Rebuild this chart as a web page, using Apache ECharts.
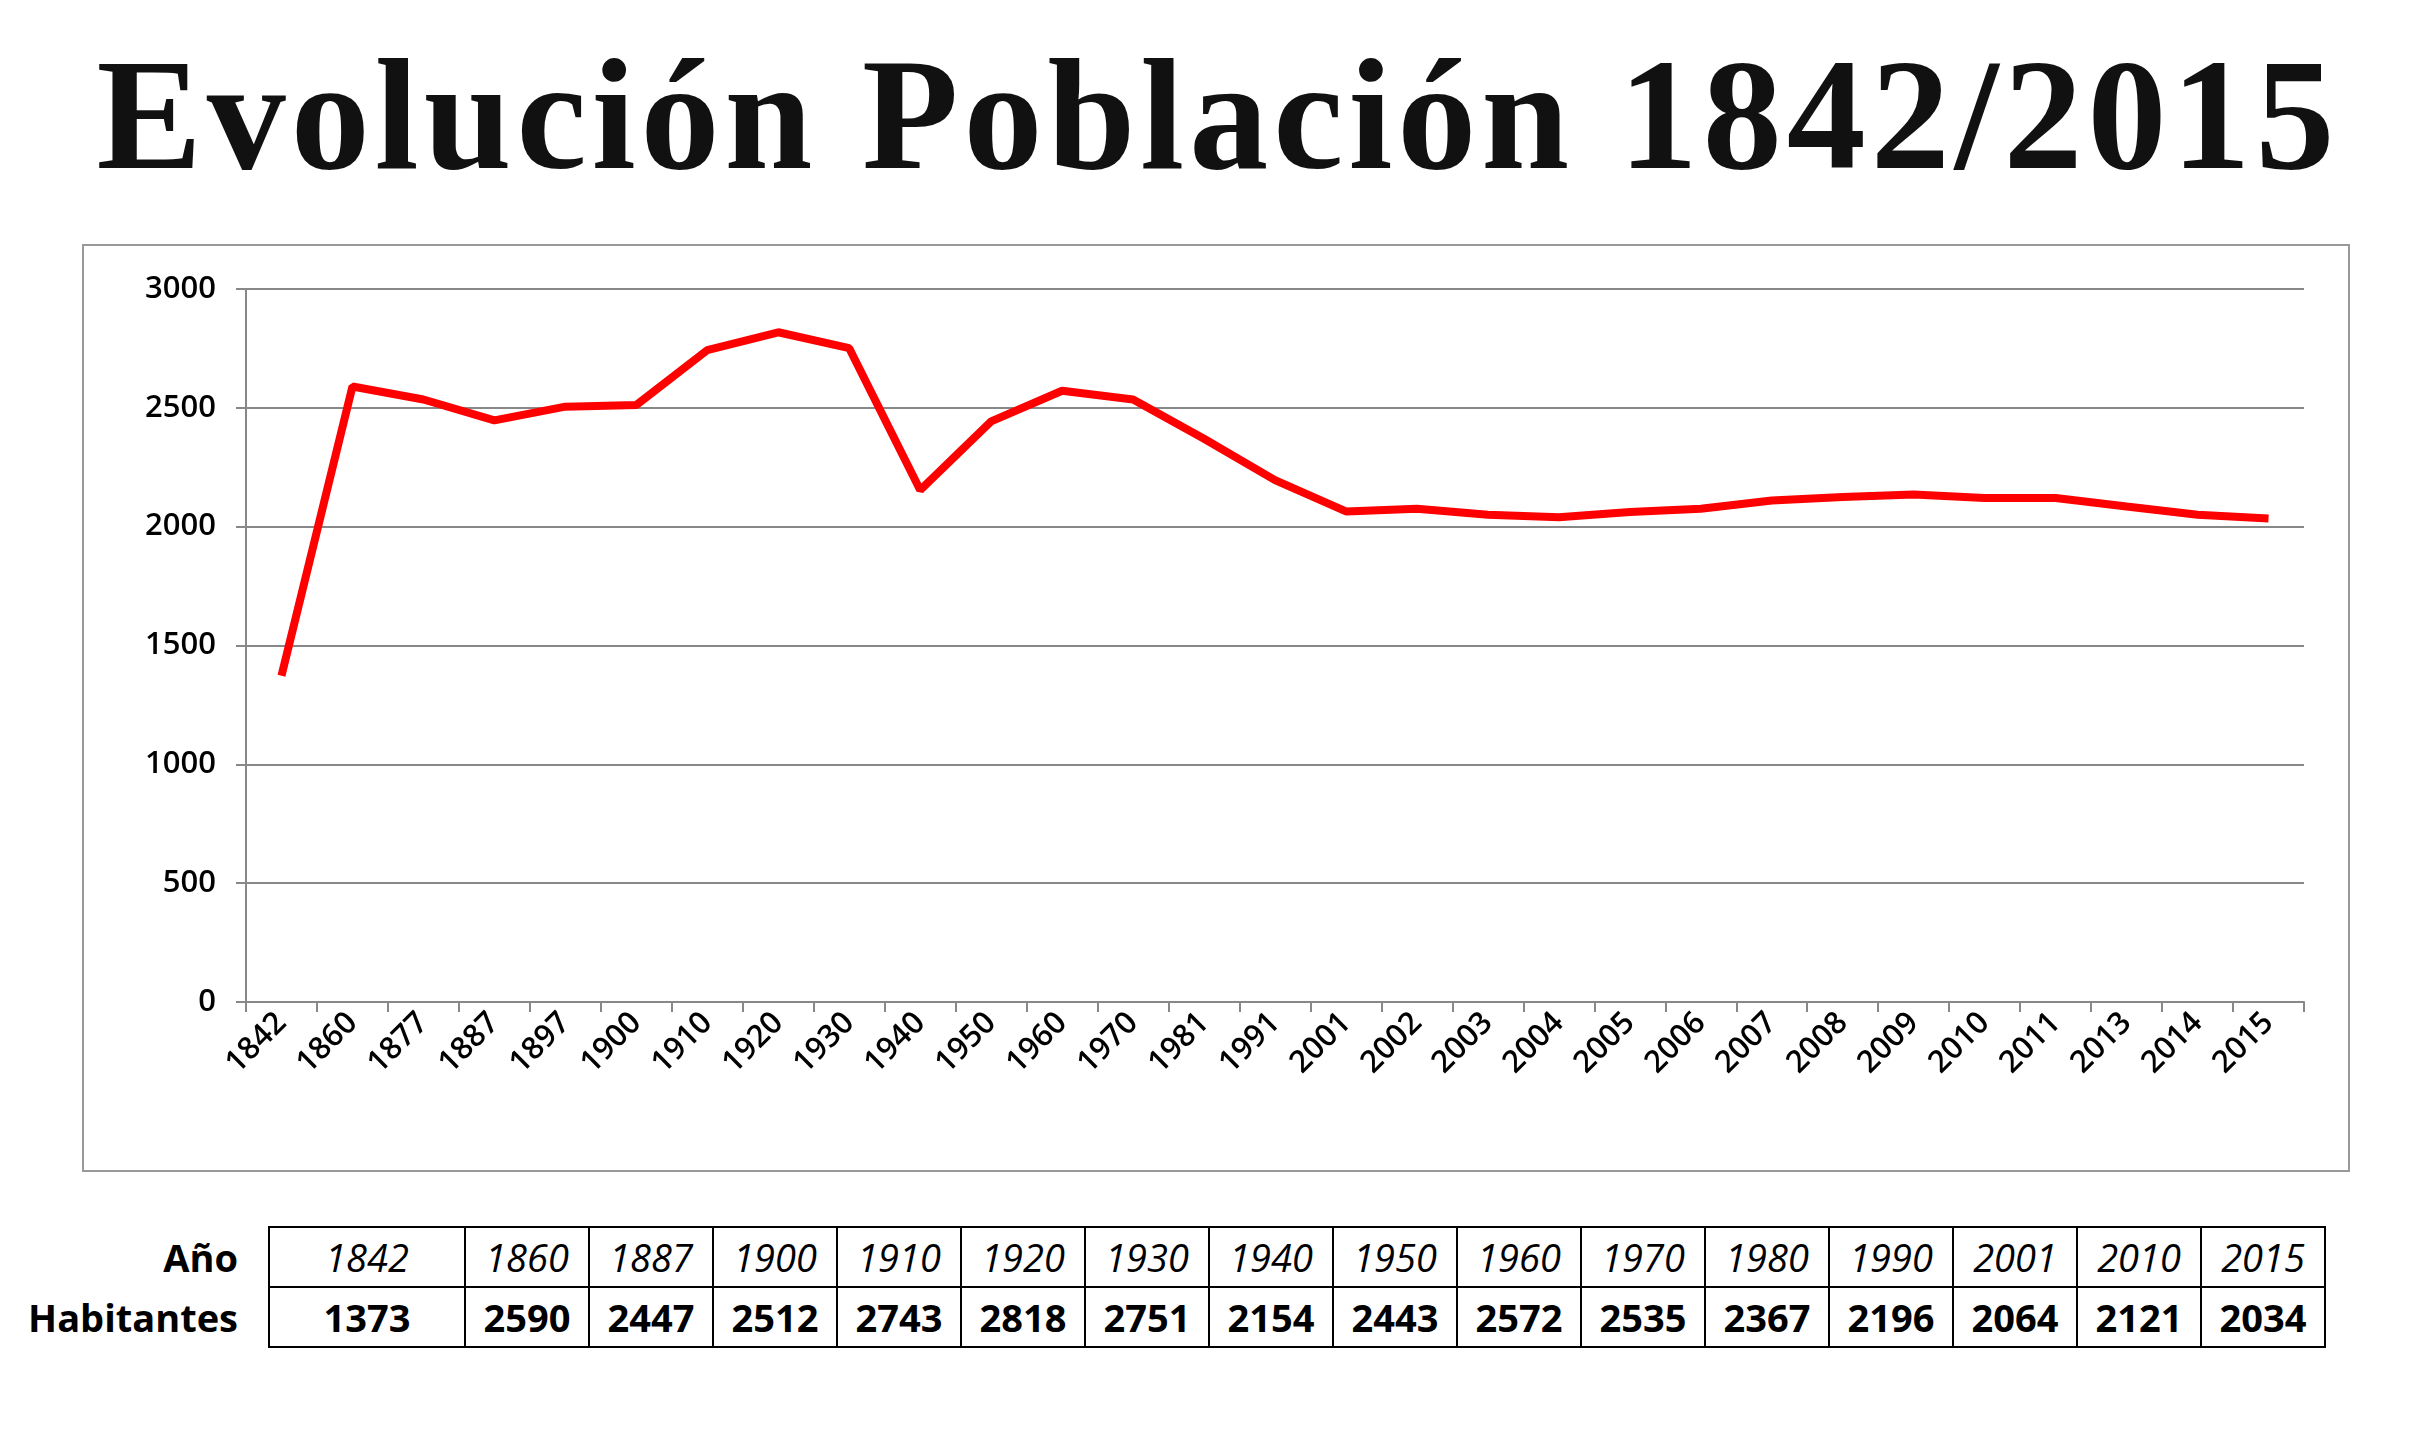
<!DOCTYPE html>
<html><head><meta charset="utf-8">
<script src="https://cdn.jsdelivr.net/npm/echarts@6/dist/echarts.min.js"></script>
<style>
body{margin:0;background:#fff;width:2436px;height:1447px;position:relative;overflow:hidden}
#title{position:absolute;left:0;top:24px;width:2436px;text-align:center;font-family:"Liberation Serif","DejaVu Serif",serif;font-weight:bold;font-size:158px;letter-spacing:5px;color:#111}
#box{position:absolute;left:82px;top:244px;width:2268px;height:928px;border:2px solid #999;box-sizing:border-box}
#chart{position:absolute;left:0;top:0;width:100%;height:100%}
#tbl{position:absolute;left:18px;top:1226px;border-collapse:collapse;font-family:"Open Sans","Liberation Sans",sans-serif;font-size:38px}
#tbl td{border:2px solid #000;height:58px;padding:0;text-align:center;width:122px}
#tbl td.h{border:none;text-align:right;font-weight:bold;padding-right:30px;width:220px}
#tbl tr.y td{font-style:italic}
#tbl tr.v td{font-weight:bold}
#tbl td.first{width:194px}
</style></head><body>
<div id="title">Evolución Población 1842/2015</div>
<div id="box"><div id="chart"></div></div>
<table id="tbl"></table>
<script>
const years=['1842','1860','1877','1887','1897','1900','1910','1920','1930','1940','1950','1960','1970','1981','1991','2001','2002','2003','2004','2005','2006','2007','2008','2009','2010','2011','2013','2014','2015'];
const population=[1373,2590,2535,2447,2505,2512,2743,2818,2751,2154,2443,2572,2535,2370,2196,2064,2075,2050,2040,2062,2075,2110,2125,2135,2121,2121,2085,2050,2034];
const tableYears=['1842','1860','1887','1900','1910','1920','1930','1940','1950','1960','1970','1980','1990','2001','2010','2015'];
const tableValues=[1373,2590,2447,2512,2743,2818,2751,2154,2443,2572,2535,2367,2196,2064,2121,2034];

const tbl=document.getElementById('tbl');
let r1='<tr class="y"><td class="h" style="font-style:normal">Año</td>'+tableYears.map((y,i)=>`<td${i==0?' class="first"':''}>${y}</td>`).join('')+'</tr>';
let r2='<tr class="v"><td class="h">Habitantes</td>'+tableValues.map((v,i)=>`<td${i==0?' class="first"':''}>${v}</td>`).join('')+'</tr>';
tbl.innerHTML=r1+r2;

const chart=echarts.init(document.getElementById('chart'));
chart.setOption({
  animation:false,
  grid:{left:162,right:44,top:43,bottom:168},
  xAxis:{type:'category',data:years,boundaryGap:true,
    axisLine:{lineStyle:{color:'#888',width:2}},
    axisTick:{show:true,length:10,lineStyle:{color:'#888',width:2}},
    axisLabel:{rotate:45,fontSize:31,color:'#000',fontFamily:'Open Sans',fontWeight:600,margin:16}},
  yAxis:{type:'value',min:0,max:3000,interval:500,
    axisLine:{show:true,lineStyle:{color:'#888',width:2}},
    axisTick:{show:true,length:10,lineStyle:{color:'#888',width:2}},
    splitLine:{lineStyle:{color:'#888',width:2}},
    axisLabel:{fontSize:31,color:'#000',fontFamily:'Open Sans',fontWeight:600,margin:30,formatter:v=>String(v)}},
  series:[{type:'line',data:population,symbol:'none',lineStyle:{color:'#ff0000',width:8}}]
});
</script>
</body></html>
